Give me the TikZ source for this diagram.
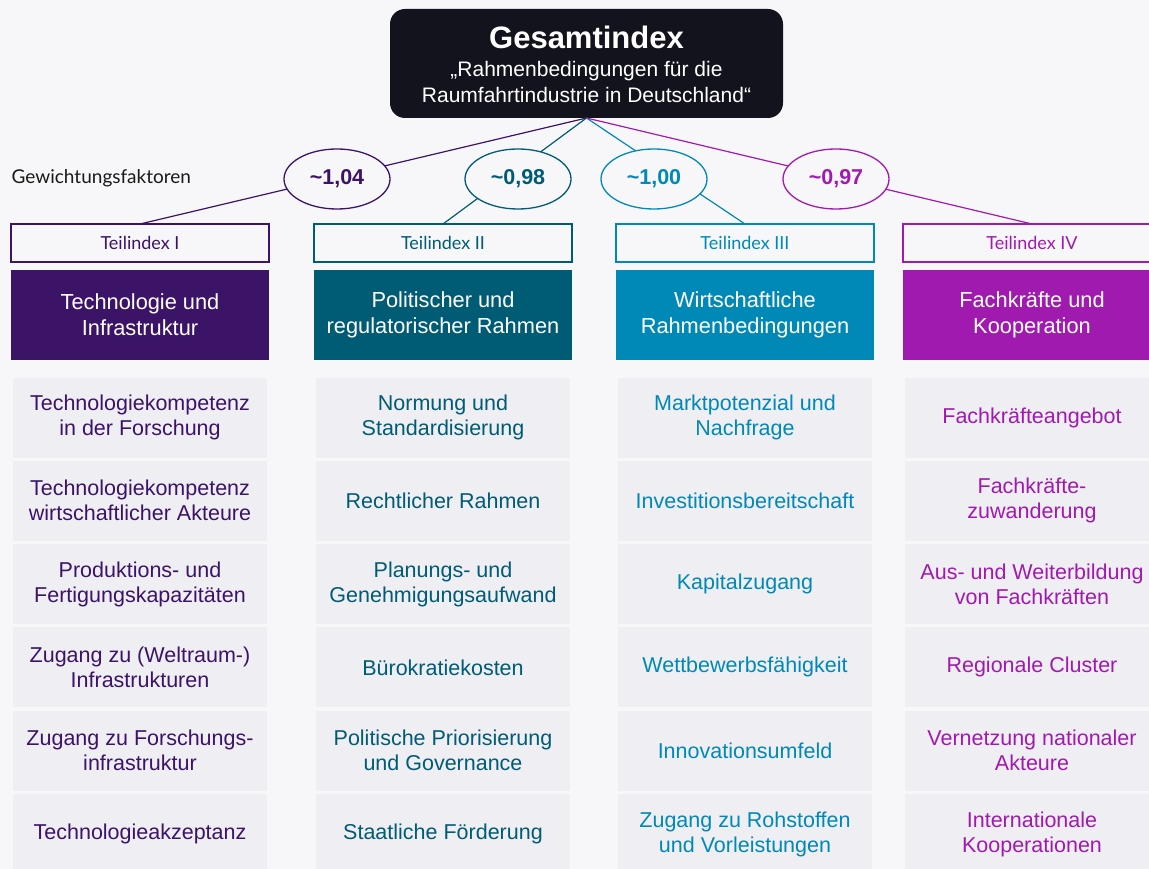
\documentclass[tikz,border=0pt]{standalone}
\usepackage{fontspec}
\setmainfont{Liberation Sans}
\newfontfamily\labelfont{Lato}
\usetikzlibrary{shapes.geometric}

\definecolor{bg}{HTML}{F7F7F9}
\definecolor{itemgrey}{HTML}{EFEEF3}
\definecolor{topbox}{HTML}{13131D}
\definecolor{cI}{HTML}{3C1467}
\definecolor{cII}{HTML}{005B75}
\definecolor{cIII}{HTML}{0089B6}
\definecolor{cIV}{HTML}{A11AB0}

\tikzset{
  teil/.style={draw=#1, line width=1.2pt, fill=bg, minimum width=258pt, minimum height=38pt,
    inner sep=0pt, outer sep=0pt, text=#1, font=\labelfont\fontsize{18}{20}\selectfont},
  head/.style={fill=#1, minimum width=258pt, minimum height=90pt, inner sep=0pt, outer sep=0pt,
    text=white, align=center, font=\fontsize{21.8}{26}\selectfont},
  item/.style={fill=itemgrey, minimum width=254pt, minimum height=80pt, inner sep=0pt, outer sep=0pt,
    text=#1, align=center, font=\fontsize{21.5}{25}\selectfont},
  weight/.style={ellipse, draw=#1, line width=1.3pt, fill=bg, minimum width=106pt, minimum height=60pt,
    inner sep=0pt, text=#1, font=\bfseries\fontsize{21.5}{25}\selectfont},
  link/.style={draw=#1, line width=1.2pt},
  toptext/.style={text=white, inner sep=0pt, anchor=base}
}

\begin{document}
\begin{tikzpicture}[x=1pt,y=-1pt]
\fill[bg] (0,0) rectangle (1149,869);
\useasboundingbox (0,0) rectangle (1149,869);
\clip (0,0) rectangle (1149,869);

% sub-index labels
\node[teil=cI]   (t1) at (140,243)  {Teilindex I};
\node[teil=cII]  (t2) at (443,243)  {Teilindex II};
\node[teil=cIII] (t3) at (745,243)  {Teilindex III};
\node[teil=cIV]  (t4) at (1032,243) {Teilindex IV};

% column headers
\node[head=cI]   (h1) at (140,315)  {Technologie und\\Infrastruktur};
\node[head=cII]  (h2) at (443,315)  {Politischer und\\regulatorischer Rahmen};
\node[head=cIII] (h3) at (745,315)  {Wirtschaftliche\\Rahmenbedingungen};
\node[head=cIV]  (h4) at (1032,315) {Fachkräfte und\\Kooperation};

% column I items
\node[item=cI] (i11) at (140,417.5) {Technologiekompetenz\\in der Forschung};
\node[item=cI] (i12) at (140,500.8) {Technologiekompetenz\\wirtschaftlicher Akteure};
\node[item=cI] (i13) at (140,584.1) {Produktions- und\\Fertigungskapazitäten};
\node[item=cI] (i14) at (140,667.4) {Zugang zu (Weltraum-)\\Infrastrukturen};
\node[item=cI] (i15) at (140,750.7) {Zugang zu Forschungs-\\infrastruktur};
\node[item=cI] (i16) at (140,834.0) {Technologieakzeptanz};

% column II items
\node[item=cII] (i21) at (443,417.5) {Normung und\\Standardisierung};
\node[item=cII] (i22) at (443,500.8) {Rechtlicher Rahmen};
\node[item=cII] (i23) at (443,584.1) {Planungs- und\\Genehmigungsaufwand};
\node[item=cII] (i24) at (443,667.4) {Bürokratiekosten};
\node[item=cII] (i25) at (443,750.7) {Politische Priorisierung\\und Governance};
\node[item=cII] (i26) at (443,834.0) {Staatliche Förderung};

% column III items
\node[item=cIII] (i31) at (745,417.5) {Marktpotenzial und\\Nachfrage};
\node[item=cIII] (i32) at (745,500.8) {Investitionsbereitschaft};
\node[item=cIII] (i33) at (745,584.1) {Kapitalzugang};
\node[item=cIII] (i34) at (745,667.4) {Wettbewerbsfähigkeit};
\node[item=cIII] (i35) at (745,750.7) {Innovationsumfeld};
\node[item=cIII] (i36) at (745,834.0) {Zugang zu Rohstoffen\\und Vorleistungen};

% column IV items
\node[item=cIV] (i41) at (1032,417.5) {Fachkräfteangebot};
\node[item=cIV] (i42) at (1032,500.8) {Fachkräfte-\\zuwanderung};
\node[item=cIV] (i43) at (1032,584.1) {Aus- und Weiterbildung\\von Fachkräften};
\node[item=cIV] (i44) at (1032,667.4) {Regionale Cluster};
\node[item=cIV] (i45) at (1032,750.7) {Vernetzung nationaler\\Akteure};
\node[item=cIV] (i46) at (1032,834.0) {Internationale\\Kooperationen};

% overall index
\node[fill=topbox, rounded corners=15pt, minimum width=393pt, minimum height=109pt,
      inner sep=0pt, outer sep=0pt] (top) at (586.5,63.5) {};
\node[toptext, font=\bfseries\fontsize{31}{33}\selectfont] (title) at (586.5,49) {Gesamtindex};
\node[toptext, font=\fontsize{21}{24}\selectfont] (sub1) at (586.5,77) {„Rahmenbedingungen für die};
\node[toptext, font=\fontsize{21}{24}\selectfont] (sub2) at (586.5,103) {Raumfahrtindustrie in Deutschland“};

\node[inner sep=0pt, anchor=base west, text=black!90, font=\labelfont\fontsize{19}{22}\selectfont]
  (wlabel) at (11.5,184) {Gewichtungsfaktoren};

% links from the overall index to the sub-indices
\draw[link=cI]   (top.south) -- (t1.north);
\draw[link=cII]  (top.south) -- (t2.north);
\draw[link=cIII] (top.south) -- (t3.north);
\draw[link=cIV]  (top.south) -- (t4.north);

% weighting factors
\node[weight=cI]   (e1) at (337,179) {\textasciitilde1,04};
\node[weight=cII]  (e2) at (518,179) {\textasciitilde0,98};
\node[weight=cIII] (e3) at (654,179) {\textasciitilde1,00};
\node[weight=cIV]  (e4) at (836,179) {\textasciitilde0,97};
\end{tikzpicture}
\end{document}
